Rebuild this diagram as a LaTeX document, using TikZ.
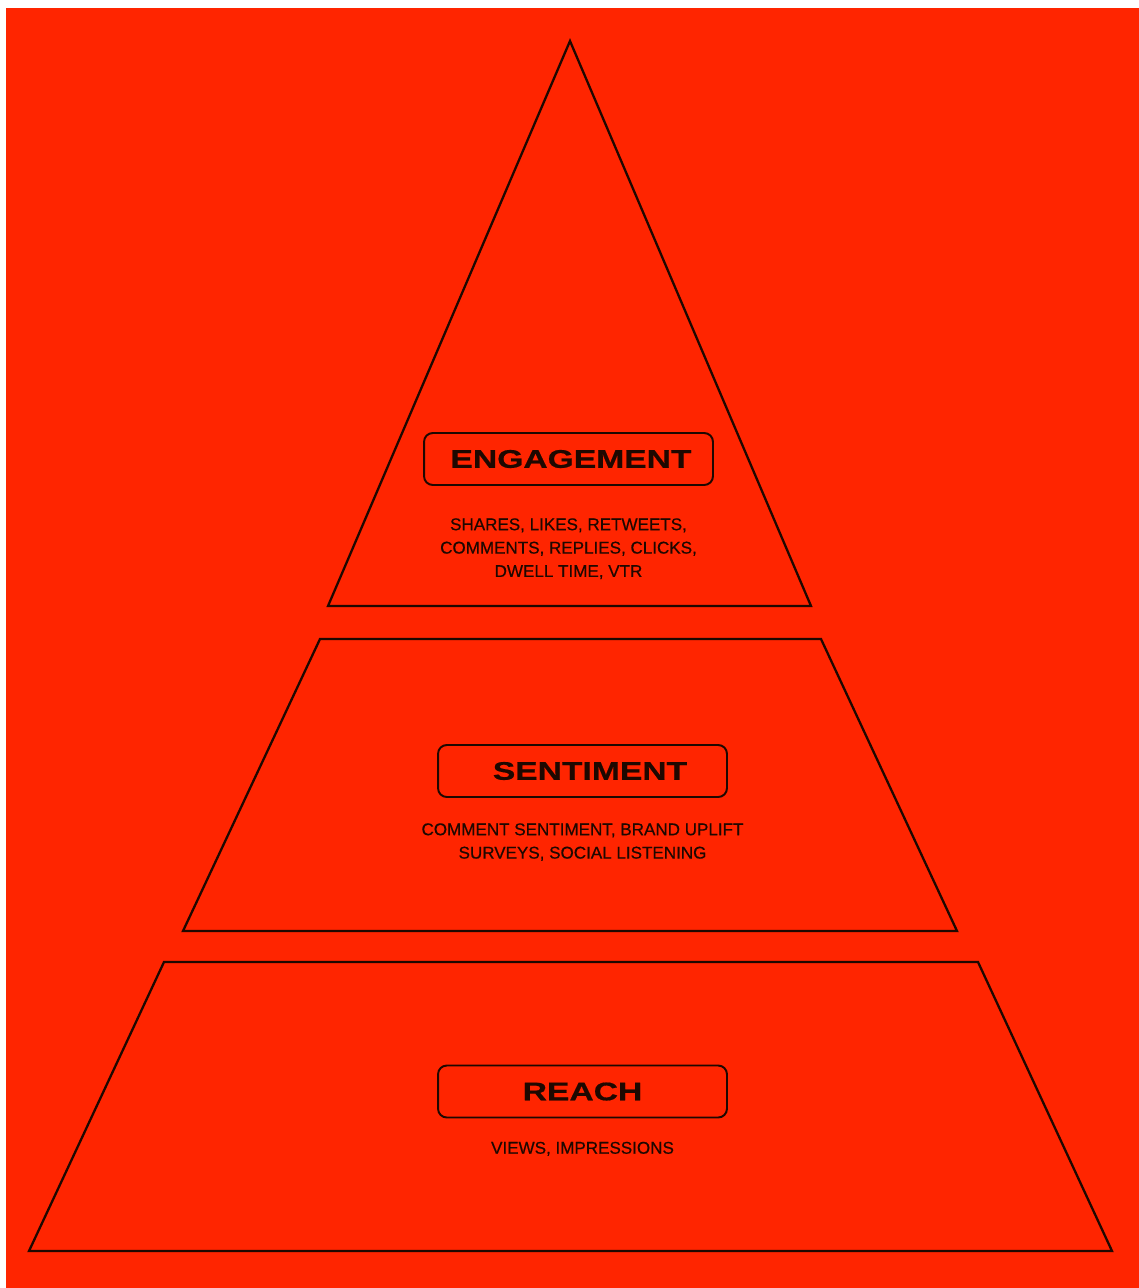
\documentclass[tikz,border=0pt]{standalone}
\usepackage{fontspec}
\setmainfont{Liberation Sans}
\newfontfamily\widefont[FakeStretch=1.32,FakeBold=0.6]{Liberation Sans}
\newfontfamily\notefont[FakeBold=0.5]{Liberation Sans}
\usetikzlibrary{positioning}
\definecolor{bgred}{RGB}{255,37,0}
\definecolor{ink}{RGB}{30,8,0}
\tikzset{tier/.style = {draw=ink, line width=1.3pt, line join=miter}}
\tikzset{tag/.style = {draw=ink, line width=1.1pt, rounded corners=5pt,
                       minimum width=5.78cm, minimum height=1.04cm,
                       inner sep=0, font=\widefont\bfseries\fontsize{14.5}{16}\selectfont,
                       text=ink}}
\tikzset{note/.style = {align=center, text=ink, inner sep=0,
                        font=\notefont\fontsize{9.7}{13.3}\selectfont}}

\begin{document}
\begin{tikzpicture}[x=0.02cm, y=-0.02cm]
      \useasboundingbox (0,0) rectangle (1139,1288);
      \fill[white] (0,0) rectangle (1139,1288);
      \fill[bgred] (6,8) rectangle (1139,1288);

      % pyramid tiers
      \draw[tier] (570,41) -- (811,606) -- (328,606) -- cycle;
      \draw[tier] (320,639) -- (821,639) -- (957,931) -- (183,931) -- cycle;
      \draw[tier] (164,962) -- (978,962) -- (1112,1251) -- (29,1251) -- cycle;

      \node[tag] (engage) at (568.5,459) {\hspace{0.1cm}\raisebox{-1.5pt}{ENGAGEMENT}};
      \node[note, below=0.64cm of engage] (engagenote)
        {SHARES, LIKES, RETWEETS,\\COMMENTS, REPLIES, CLICKS,\\DWELL TIME, VTR};

      \node[tag] (senti) at (582.5,771) {\hspace{0.3cm}\raisebox{-1pt}{SENTIMENT}};
      \node[note, below=0.5cm of senti] (sentinote)
        {COMMENT SENTIMENT, BRAND UPLIFT\\SURVEYS, SOCIAL LISTENING};

      \node[tag] (reach) at (582.5,1091.5) {REACH};
      \node[note, below=0.46cm of reach] (reachnote) {VIEWS, IMPRESSIONS};
    \end{tikzpicture}
\end{document}
